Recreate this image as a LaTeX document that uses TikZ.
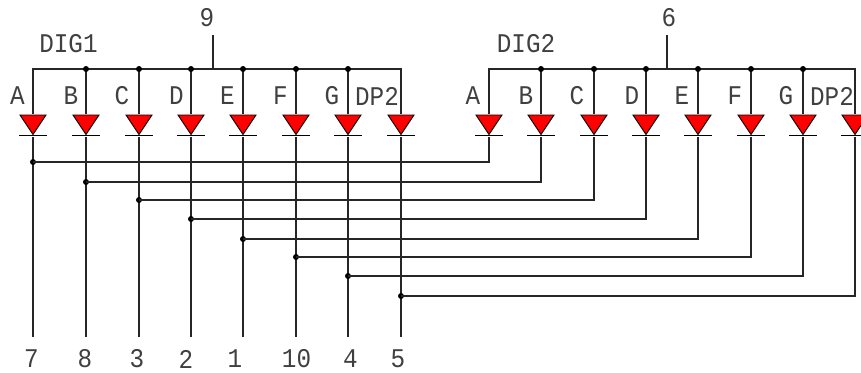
\documentclass[tikz,border=0pt]{standalone}
\usepackage{fontspec}
\newfontfamily\labfont[FakeStretch=0.9]{Liberation Mono}
\tikzset{
  wire/.style={draw=black!85,line width=1.6pt},
  dot/.style={circle,fill=black,inner sep=0pt,minimum size=6pt},
  led/.style={inner sep=0pt,outer sep=0pt,minimum width=30pt,minimum height=23pt,
    path picture={
      \path (path picture bounding box.north west) coordinate (nw) (path picture bounding box.north east) coordinate (ne)
            (path picture bounding box.south) coordinate (s);
      \fill[red,draw=black,line width=.9pt] ([xshift=2pt,yshift=-1pt]nw) -- ([xshift=-2pt,yshift=-1pt]ne) -- ([yshift=2.5pt]s) -- cycle;
      \draw[black,line width=1.6pt] ([xshift=1pt,yshift=1.5pt]s-|nw) -- ([xshift=-1pt,yshift=1.5pt]s-|ne);
    }},
  lab/.style={font=\labfont\fontsize{27}{27}\selectfont,inner sep=0pt,text=black!75}
}
\begin{document}
\begin{tikzpicture}[x=1pt,y=-1pt]
\useasboundingbox (0,0) rectangle (861,372);
\foreach \n/\x in {a/33,b/86,c/139,d/191,e/243,f/296,g/348,p/401}{
  \node[led] (L\n) at (\x,125.5) {};
  \coordinate (LT\n) at (\x,69);
  \coordinate (LB\n) at (\x,337);
  \draw[wire] (LT\n) -- (L\n.north);
  \draw[wire] (L\n.south) -- (LB\n);
}
\foreach \n/\x in {a/489,b/541,c/594,d/646,e/698,f/751,g/803,p/855}{
  \node[led] (R\n) at (\x,125.5) {};
  \coordinate (RT\n) at (\x,69);
  \draw[wire] (RT\n) -- (R\n.north);
}
\draw[wire,line cap=rect] (LTa) -- (LTp);
\draw[wire,line cap=rect] (RTa) -- (RTp);
\foreach \n in {b,c,d,e,f,g}{
  \node[dot] at (LT\n) {};
  \node[dot] at (RT\n) {};
}
\foreach \n/\y in {a/162,b/182,c/200,d/219,e/239,f/257,g/276,p/296}{
  \node[dot] (J\n) at (L\n |- 0,\y) {};
  \coordinate (K\n) at (R\n |- 0,\y);
  \draw[wire] (J\n.center) -- (K\n) -- (R\n.south);
}
\coordinate (P9) at (213,35);
\coordinate (P9b) at (213,69);
\coordinate (P6) at (667,35);
\coordinate (P6b) at (667,69);
\draw[wire] (P9) -- (P9b);
\draw[wire] (P6) -- (P6b);
\node[lab] at (207,17.5) {9};
\node[lab] at (669,17.5) {6};
\node[lab] at (68.5,44) {DIG1};
\node[lab] at (526,44) {DIG2};
\foreach \t/\x in {A/17.5,B/71,C/122,D/176.5,E/227.5,F/280.5,G/332}{
  \node[lab] at (\x,96) {\t};
}
\node[lab] at (377,96) {DP2};
\foreach \t/\x in {A/473,B/526,C/577,D/632,E/682,F/735,G/786}{
  \node[lab] at (\x,96) {\t};
}
\node[lab] at (832,96) {DP2};
\foreach \t/\x in {7/31.5,8/85,3/137,2/186,1/235,10/296.5,4/350.5,5/398}{
  \node[lab] at (\x,359) {\t};
}
\end{tikzpicture}
\end{document}
